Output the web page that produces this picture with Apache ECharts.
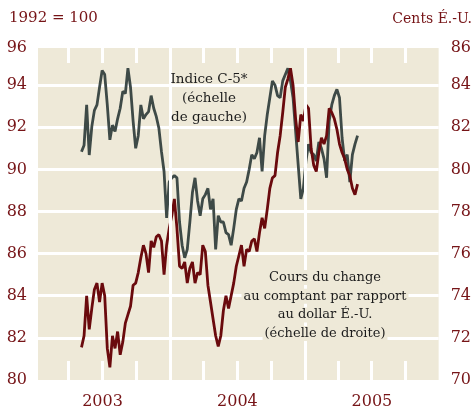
<!DOCTYPE html>
<html><head><meta charset="utf-8">
<script src="https://cdn.jsdelivr.net/npm/echarts@6/dist/echarts.min.js"></script>
<style>html,body{margin:0;padding:0;background:#fff}#c{width:474px;height:410px}</style>
</head><body><div id="c"></div><script>
// weekly observations
const startDate = [2003, 4, 6]; // 2003-05-06
const stepDays = 7;
// Indice C-5* (1992 = 100, left scale)
const indexC5 = [90.84,91.15,93.06,90.68,92.03,92.8,93.06,93.9,94.7,94.5,
93.06,91.4,92.1,91.8,92.4,92.9,93.7,93.6,94.8,93.9,
92.3,91.0,91.6,93.06,92.4,92.6,92.74,93.5,92.9,92.5,
91.95,90.84,89.9,87.7,89.4,89.6,89.7,89.6,87.5,86.4,
85.8,86.2,87.5,88.9,89.6,88.5,87.8,88.6,88.8,89.1,
88.1,88.6,86.2,87.8,87.5,87.5,87.0,86.9,86.4,87.2,
88.1,88.6,88.5,89.1,89.4,90.0,90.7,90.5,90.8,91.5,
89.9,91.6,92.6,93.4,94.2,94.0,93.5,93.4,94.2,94.5,
94.8,94.2,93.4,91.8,90.2,88.6,89.1,90.4,91.2,90.8,
90.7,90.4,91.3,91.0,90.5,89.6,92.3,93.06,93.5,93.8,
93.4,91.5,90.4,90.7,89.4,90.7,91.2,91.6];
// Cours du change (cents É.-U., right scale)
const usdRate = [71.55,72.1,74.0,72.4,73.4,74.3,74.6,73.7,74.6,74.0,
71.5,70.6,72.1,71.5,72.3,71.2,71.8,72.7,73.1,73.5,
74.5,74.6,75.1,75.8,76.4,76.0,75.1,76.6,76.3,76.8,
76.9,76.6,75.0,76.4,77.2,77.8,78.6,77.2,75.4,75.3,
75.6,74.6,75.3,75.6,74.6,75.1,75.0,76.4,76.1,74.5,
73.7,72.9,72.1,71.6,72.1,73.3,74.0,73.4,74.0,74.6,
75.4,75.9,76.4,75.4,76.2,76.1,76.6,76.7,76.1,77.0,
77.7,77.2,78.1,79.1,79.6,79.7,80.8,81.6,82.7,83.9,
84.3,84.8,84.0,82.4,81.3,82.6,82.3,83.06,82.9,81.0,
80.2,79.9,80.8,81.5,81.2,81.6,82.9,82.7,82.4,81.9,
81.2,80.8,80.5,80.0,79.7,79.1,78.8,79.3];
const yearLabels = ['2003','2004','2005'];
const leftMin = 80, leftTop = 96, rightMin = 70, rightTop = 86;
const noteLeft = ['Indice C-5*', '(échelle', 'de gauche)'];
const noteRight = ['Cours du change', 'au comptant par rapport', 'au dollar É.-U.', '(échelle de droite)'];

function d(y,m,day){ return new Date(y,m,day).getTime(); }
const dates = indexC5.map((_,i)=> d(startDate[0], startDate[1], startDate[2] + i*stepDays));
const grayData = indexC5.map((v,i)=>[dates[i], v]);
const redData = usdRate.map((v,i)=>[dates[i], v]);

const xMin = d(2003,0,8), xMax = d(2005,11,30);
const quarterTicks = [];
[2003,2004,2005].forEach(y=>{ [3,6,9].forEach(m=>quarterTicks.push(d(y,m,1))); });
const labelPos = yearLabels.map(y=>d(+y,6,2));
const yearLines = [d(2004,0,1), d(2005,0,1)];

const FONT = 'DejaVu Serif';
const RED_TXT = '#761417';
const BG = '#eee9d8';
const leftMax = leftTop - 5/21;
const rightMax = rightTop - 5/21;

const graphics = [
  {type:'text', left:9, top:11, style:{text:'1992 = 100', fill:RED_TXT, font:'15px "DejaVu Serif"'}},
  {type:'text', right:2, top:12, style:{text:'Cents É.-U.', fill:RED_TXT, font:'14px "DejaVu Serif"'}},
  {type:'text', x:209, y:98, z:100, style:{text:noteLeft.join('\n'), fill:'#1c1c1c', font:'13.5px "DejaVu Serif"', align:'center', verticalAlign:'middle', lineHeight:19}}
];
noteRight.forEach((t,i)=>{
  graphics.push({type:'text', x:325, y:277.5 + i*18.7, z:100,
    style:{text:t, fill:'#1c1c1c', font:'13px "DejaVu Serif"', align:'center', verticalAlign:'middle',
      lineHeight:15, backgroundColor:BG, padding:[0,2]}});
});

const chart = echarts.init(document.getElementById('c'), null, {renderer:'canvas'});
chart.setOption({
  animation:false,
  backgroundColor:'#ffffff',
  grid:{left:38, right:35, top:48, bottom:30, show:true, backgroundColor:BG, borderWidth:0},
  xAxis:[{
    type:'value', position:'bottom', min:xMin, max:xMax,
    axisLine:{show:false},
    axisTick:{show:true, inside:true, length:19, customValues:quarterTicks, lineStyle:{color:'#ffffff', width:3}},
    axisLabel:{show:true, customValues:labelPos, formatter:v=>String(new Date(v).getFullYear()),
      color:RED_TXT, fontFamily:FONT, fontSize:16, margin:14},
    splitLine:{show:false}
  },{
    type:'value', position:'top', min:xMin, max:xMax,
    axisLine:{show:false},
    axisTick:{show:true, inside:true, length:15, customValues:quarterTicks, lineStyle:{color:'#ffffff', width:3}},
    axisLabel:{show:false},
    splitLine:{show:false}
  }],
  yAxis:[{
    type:'value', min:leftMin, max:leftMax, interval:2, position:'left',
    axisLine:{show:false}, axisTick:{show:false},
    axisLabel:{color:RED_TXT, fontFamily:FONT, fontSize:16, margin:11, formatter:v=>String(Math.round(v))},
    splitLine:{show:true, showMinLine:false, showMaxLine:false, lineStyle:{color:'#ffffff', width:3}}
  },{
    type:'value', min:rightMin, max:rightMax, interval:2, position:'right',
    axisLine:{show:false}, axisTick:{show:false},
    axisLabel:{color:RED_TXT, fontFamily:FONT, fontSize:16, margin:12, formatter:v=>String(Math.round(v))},
    splitLine:{show:false}
  }],
  series:[{
    type:'line', name:'years', data:[], xAxisIndex:0, yAxisIndex:0, z:1, silent:true,
    markLine:{silent:true, symbol:'none', label:{show:false}, animation:false,
      lineStyle:{color:'#ffffff', width:3, type:'solid'},
      data: yearLines.map(t=>({xAxis:t}))}
  },{
    type:'line', name:'Indice C-5*', data:grayData, xAxisIndex:0, yAxisIndex:0, z:3,
    showSymbol:false, symbol:'none', lineStyle:{color:'#3e4a47', width:2.8}
  },{
    type:'line', name:'Cours du change', data:redData, xAxisIndex:0, yAxisIndex:1, z:4,
    showSymbol:false, symbol:'none', lineStyle:{color:'#6a0a0d', width:2.8}
  }],
  graphic:graphics
});
</script></body></html>
